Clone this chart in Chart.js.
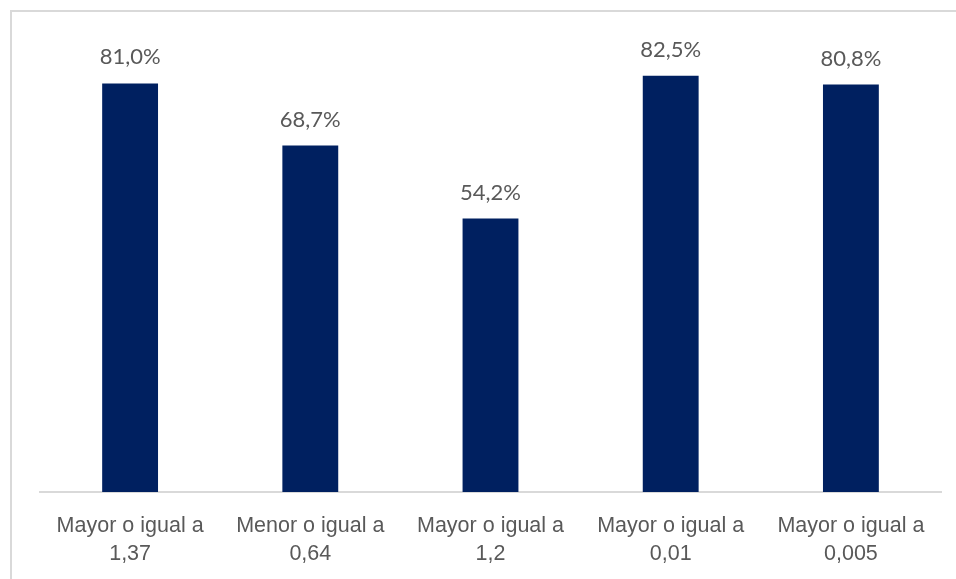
<!DOCTYPE html>
<html>
<head>
<meta charset="utf-8">
<script src="https://cdn.jsdelivr.net/npm/chart.js@4.4.1/dist/chart.umd.min.js"></script>
<style>
  html, body { margin: 0; padding: 0; background: #fff; overflow: hidden; }
  #wrap { position: relative; width: 956px; height: 579px; }
  #frame { position: absolute; left: 10px; top: 10px; width: 960px; height: 600px; border: 2px solid #d9d9d9; box-sizing: border-box; }
  canvas { position: absolute; left: 0; top: 0; }
</style>
</head>
<body>
<div id="wrap">
  <div id="frame"></div>
  <canvas id="chart" width="956" height="579"></canvas>
</div>
<script>
// Chart data
const categories = [
  ['Mayor o igual a', '1,37'],
  ['Menor o igual a', '0,64'],
  ['Mayor o igual a', '1,2'],
  ['Mayor o igual a', '0,01'],
  ['Mayor o igual a', '0,005']
];
const values = [81.0, 68.7, 54.2, 82.5, 80.8];

const textColor = '#595959';

// value labels above the bars
const barLabels = {
  id: 'barLabels',
  afterDatasetsDraw(chart) {
    const ctx = chart.ctx;
    const meta = chart.getDatasetMeta(0);
    ctx.save();
    ctx.font = '22px Lato, "Open Sans", sans-serif';
    ctx.fillStyle = textColor;
    ctx.textAlign = 'center';
    ctx.textBaseline = 'middle';
    meta.data.forEach((bar, i) => {
      ctx.fillText(values[i].toFixed(1).replace('.', ',') + '%', bar.x, bar.y - 26);
    });
    ctx.restore();
  }
};

new Chart(document.getElementById('chart'), {
  type: 'bar',
  data: {
    labels: categories,
    datasets: [{
      data: values,
      backgroundColor: '#002060',
      borderWidth: 0,
      barPercentage: 0.62,
      categoryPercentage: 0.5
    }]
  },
  options: {
    responsive: false,
    animation: false,
    layout: { padding: { left: 40, right: 15, top: 38, bottom: 0 } },
    plugins: { legend: { display: false }, tooltip: { enabled: false } },
    scales: {
      x: {
        grid: { display: false, drawTicks: false },
        border: { display: true, color: '#d9d9d9', width: 2 },
        ticks: {
          color: textColor,
          font: { family: '"Liberation Sans Narrow", "Arial Narrow", "Liberation Sans", sans-serif', size: 21.5, lineHeight: 1.26 },
          padding: 21,
          maxRotation: 0,
          autoSkip: false
        },
        afterFit(scale) { scale.height = 87; }
      },
      y: {
        display: false,
        min: 0,
        max: 90
      }
    }
  },
  plugins: [barLabels]
});
</script>
</body>
</html>
